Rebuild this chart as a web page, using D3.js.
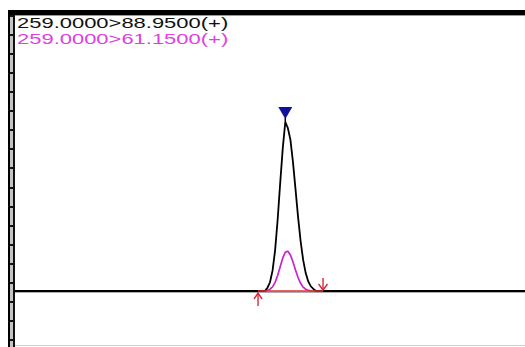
<!DOCTYPE html>
<html>
<head>
<meta charset="utf-8">
<script src="https://cdn.jsdelivr.net/npm/d3@7"></script>
<style>
  html, body { margin: 0; padding: 0; background: #fff; }
  svg { display: block; }
</style>
</head>
<body>
<svg id="chart" width="525" height="347"></svg>
<script>
// MRM transitions (precursor > product, polarity)
const precursors = [259.0, 259.0];
const products = [88.95, 61.15];
const polarity = "+";

// Retention times (min) across the peak
const times = [9.8, 9.9, 10.0, 10.1, 10.2, 10.3, 10.4, 10.5, 10.6, 10.7, 10.8,
               10.9, 11.0, 11.1, 11.2, 11.3, 11.4, 11.5, 11.6, 11.7, 11.8];
// Intensities (counts) for each transition
const quantCounts = [0, 33, 87, 203, 407, 712, 1080, 1426, 1690, 1630, 1514,
                     1291, 1018, 742, 500, 311, 179, 95, 47, 21, 0];
const qualCounts = [0, 6, 18, 42, 87, 155, 243, 329, 388, 397, 361,
                    292, 210, 135, 77, 39, 18, 7, 2, 0, 0];

// Run extent (min) and integration window (min)
const runRange = [0, 20];
const integration = [9.53, 12.08];

const svg = d3.select("#chart");
const W = 525, H = 347;
const plot = { left: 15, right: 525, top: 15, bottom: 345 };

const x = d3.scaleLinear().domain(runRange).range([plot.left, plot.right]);
const y = d3.scaleLinear().domain([-540, 2760]).range([plot.bottom, plot.top]);

// full traces: flat zero signal outside the peak
function trace(counts) {
  const pts = [[runRange[0], 0]];
  times.forEach((t, i) => pts.push([t, counts[i]]));
  pts.push([runRange[1], 0]);
  return pts;
}

const line = d3.line().x(d => x(d[0])).y(d => y(d[1]));

// left ruler frame
svg.append("rect").attr("x", 8).attr("y", 10).attr("width", 2).attr("height", H - 10).attr("fill", "#000");
svg.append("rect").attr("x", 10).attr("y", 15).attr("width", 3).attr("height", H - 15).attr("fill", "#c4c4c4");
svg.append("rect").attr("x", 13).attr("y", 15).attr("width", 2).attr("height", H - 15).attr("fill", "#111");
const ruler = d3.scaleLinear().domain([0, 17]).range([16, 340]);
svg.append("g").selectAll("rect")
  .data(d3.range(18))
  .join("rect")
  .attr("x", 10).attr("width", 3)
  .attr("y", d => Math.round(ruler(d)) - 1).attr("height", 2)
  .attr("fill", "#111");

// top bar
svg.append("rect").attr("x", 8).attr("y", 10).attr("width", W - 8).attr("height", 5).attr("fill", "#000");
svg.append("rect").attr("x", 15).attr("y", 15).attr("width", W - 15).attr("height", 1).attr("fill", "#9a9a9a");

// bottom edge
svg.append("rect").attr("x", 15).attr("y", 345).attr("width", W - 15).attr("height", 1).attr("fill", "#d0d0d0");

// zero line shadow
svg.append("rect").attr("x", plot.left).attr("y", y(0) + 0.5).attr("width", W - plot.left).attr("height", 1.2).attr("fill", "#8a8a8a");

// traces
svg.append("path").datum(trace(qualCounts))
  .attr("d", line).attr("fill", "none")
  .attr("stroke", "#cc22cc").attr("stroke-width", 1.7).attr("stroke-linejoin", "miter");
svg.append("path").datum(trace(quantCounts))
  .attr("d", line).attr("fill", "none")
  .attr("stroke", "#000").attr("stroke-width", 1.8).attr("stroke-linejoin", "miter");

// integration baseline
svg.append("line")
  .attr("x1", x(integration[0])).attr("x2", x(integration[1]))
  .attr("y1", y(0)).attr("y2", y(0))
  .attr("stroke", "#e0303a").attr("stroke-width", 1.3);

// integration start (up arrow) and end (down arrow)
const red = "#d8283a";
const s0 = x(integration[0]), b0 = y(0);
const up = svg.append("g").attr("stroke", red).attr("stroke-width", 1.4).attr("fill", "none");
up.append("line").attr("x1", s0).attr("x2", s0).attr("y1", b0 + 2).attr("y2", b0 + 15);
up.append("path").attr("d", `M${s0 - 4},${b0 + 8} L${s0},${b0 + 2} L${s0 + 4},${b0 + 8}`);
const e0 = x(integration[1]);
const dn = svg.append("g").attr("stroke", red).attr("stroke-width", 1.4).attr("fill", "none");
dn.append("line").attr("x1", e0).attr("x2", e0).attr("y1", b0 - 13).attr("y2", b0 - 1);
dn.append("path").attr("d", `M${e0 - 4.5},${b0 - 7} L${e0},${b0 - 1} L${e0 + 4.5},${b0 - 7}`);

// apex marker
const iMax = d3.maxIndex(quantCounts);
const ax = x(times[iMax]), ay = y(quantCounts[iMax]);
svg.append("path")
  .attr("d", `M${ax - 7},${ay - 15} L${ax + 7},${ay - 15} L${ax},${ay - 3} Z`)
  .attr("fill", "#10109a");
svg.append("line").attr("x1", ax).attr("x2", ax).attr("y1", ay - 4).attr("y2", ay)
  .attr("stroke", "#000").attr("stroke-width", 1.5);

// transition labels
const labelColors = ["#111", "#e040e0"];
svg.append("g").selectAll("text")
  .data(products)
  .join("text")
  .attr("transform", (d, i) => `translate(17, ${27.5 + i * 16}) scale(1.57, 1)`)
  .attr("font-family", "Liberation Sans, Arial, sans-serif")
  .attr("font-size", 14)
  .attr("fill", (d, i) => labelColors[i])
  .text((d, i) => `${precursors[i].toFixed(4)}>${d.toFixed(4)}(${polarity})`);
</script>
</body>
</html>
